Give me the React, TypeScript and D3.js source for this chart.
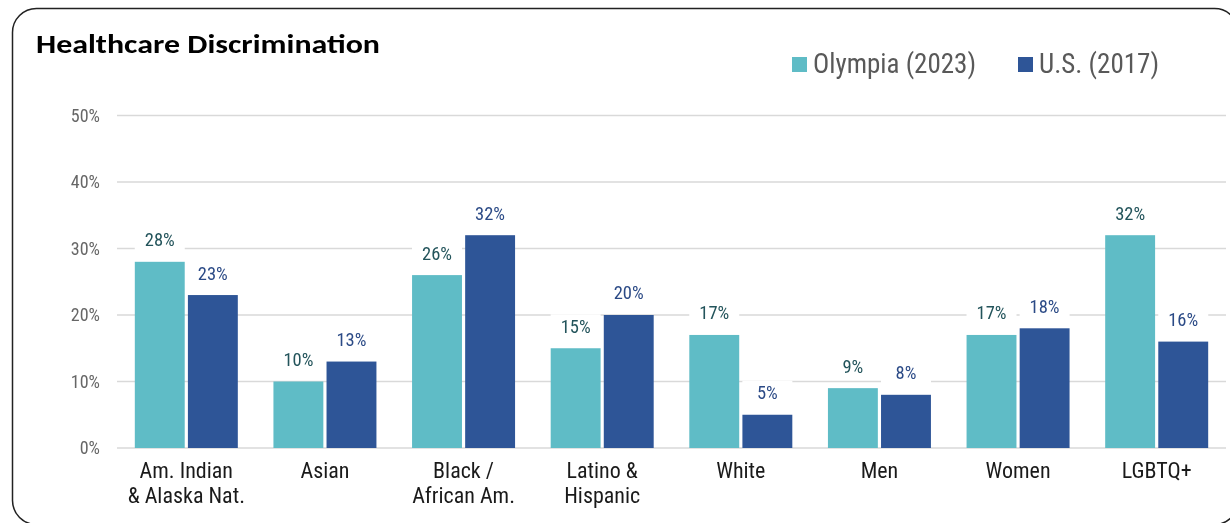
import React, { useEffect, useRef } from "react";
import * as d3 from "d3";

const categories = [
  ["Am. Indian", "& Alaska Nat."],
  ["Asian"],
  ["Black /", "African Am."],
  ["Latino &", "Hispanic"],
  ["White"],
  ["Men"],
  ["Women"],
  ["LGBTQ+"],
];
const seriesNames = ["Olympia (2023)", "U.S. (2017)"];
const olympia = [28, 10, 26, 15, 17, 9, 17, 32];
const us = [23, 13, 32, 20, 5, 8, 18, 16];
const yTicks = [0, 10, 20, 30, 40, 50];

const W = 1230;
const H = 523;
const barColors = ["#5FBCC6", "#2E5597"];
const labelColors = ["#23545B", "#2B4A86"];
const narrow = "'Liberation Sans Narrow', 'Roboto Condensed', 'Arial Narrow', sans-serif";

export default function App() {
  const ref = useRef<SVGSVGElement>(null);
  useEffect(() => {
    const svg = d3.select(ref.current);
    svg.selectAll("*").remove();

    svg
      .append("rect")
      .attr("x", 12.5)
      .attr("y", 8.5)
      .attr("width", 1226)
      .attr("height", 516)
      .attr("rx", 24)
      .attr("fill", "#fff")
      .attr("stroke", "#222")
      .attr("stroke-width", 1.5);

    const x0 = d3
      .scaleBand<number>()
      .domain(d3.range(categories.length))
      .range([117, 1226])
      .paddingInner(0.257)
      .paddingOuter(0.1285);
    const x1 = d3
      .scaleBand<number>()
      .domain([0, 1])
      .range([0, x0.bandwidth()])
      .paddingInner(0.06);
    const y = d3.scaleLinear().domain([0, 50]).range([448, 115.5]);

    svg
      .append("g")
      .selectAll("line")
      .data(yTicks)
      .join("line")
      .attr("x1", 117)
      .attr("x2", 1226)
      .attr("y1", (d) => y(d))
      .attr("y2", (d) => y(d))
      .attr("stroke", "#D9D9D9")
      .attr("stroke-width", 1.5);

    svg
      .append("g")
      .selectAll("text")
      .data(yTicks)
      .join("text")
      .attr("x", 100)
      .attr("y", (d) => y(d))
      .attr("dy", "0.35em")
      .attr("text-anchor", "end")
      .attr("font-family", narrow)
      .attr("font-size", 18)
      .attr("fill", "#666666")
      .text((d) => `${d}%`);

    const seriesData = [olympia, us];
    const labels: { x: number; y: number; s: number; v: number }[] = [];
    seriesData.forEach((vals, s) => {
      vals.forEach((v, i) => {
        labels.push({ x: x0(i)! + x1(s)! + x1.bandwidth() / 2, y: y(v) - 22, s, v });
      });
    });

    svg
      .append("g")
      .selectAll("rect")
      .data(labels)
      .join("rect")
      .attr("x", (d) => d.x - 25)
      .attr("y", (d) => d.y - 12)
      .attr("width", 50)
      .attr("height", 24)
      .attr("fill", "#fff");

    seriesData.forEach((vals, s) => {
      svg
        .append("g")
        .selectAll("rect")
        .data(vals)
        .join("rect")
        .attr("x", (_, i) => x0(i)! + x1(s)!)
        .attr("y", (d) => y(d))
        .attr("width", x1.bandwidth())
        .attr("height", (d) => y(0) - y(d))
        .attr("fill", barColors[s]);
    });

    svg
      .append("g")
      .selectAll("text")
      .data(labels)
      .join("text")
      .attr("x", (d) => d.x)
      .attr("y", (d) => d.y)
      .attr("dy", "0.35em")
      .attr("text-anchor", "middle")
      .attr("font-family", narrow)
      .attr("font-size", 18.5)
      .attr("fill", (d) => labelColors[d.s])
      .text((d) => `${d.v}%`);

    const cg = svg
      .append("g")
      .selectAll("text")
      .data(categories)
      .join("text")
      .attr("x", (_, i) => x0(i)! + x0.bandwidth() / 2)
      .attr("y", 478)
      .attr("text-anchor", "middle")
      .attr("font-family", narrow)
      .attr("font-size", 22)
      .attr("fill", "#1a1a1a");
    cg.selectAll("tspan")
      .data((d) => d)
      .join("tspan")
      .attr("x", function () {
        return (this.parentNode as SVGTextElement).getAttribute("x");
      })
      .attr("dy", (_, j) => (j === 0 ? 0 : 24.5))
      .text((d) => d);

    svg
      .append("text")
      .attr("x", 36)
      .attr("y", 53)
      .attr("font-family", "Carlito, 'Open Sans', sans-serif")
      .attr("font-weight", "bold")
      .attr("font-size", 27)
      .attr("textLength", 344)
      .attr("lengthAdjust", "spacingAndGlyphs")
      .attr("fill", "#000")
      .text("Healthcare Discrimination");

    const legendX = [792, 1018];
    seriesNames.forEach((name, s) => {
      svg
        .append("rect")
        .attr("x", legendX[s])
        .attr("y", 57)
        .attr("width", 15)
        .attr("height", 15)
        .attr("fill", barColors[s]);
      svg
        .append("text")
        .attr("x", legendX[s] + 21)
        .attr("y", 73)
        .attr("font-family", narrow)
        .attr("font-size", 27)
        .attr("fill", "#595959")
        .text(name);
    });
  }, []);

  return (
    <div style={{ position: "fixed", left: 0, top: 0 }}>
      <svg ref={ref} width={W} height={H} style={{ display: "block" }} />
    </div>
  );
}
